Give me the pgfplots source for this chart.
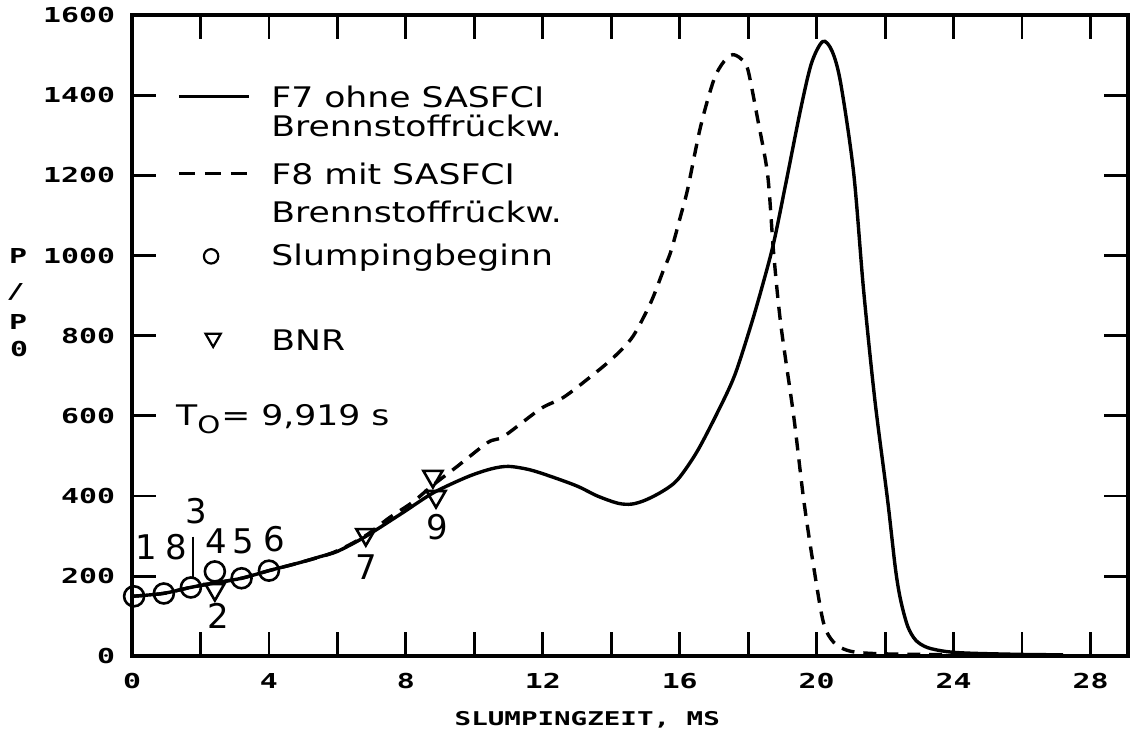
\documentclass[border=0pt]{standalone}
\usepackage{pgfplots}
\pgfplotsset{compat=1.18}
\usepackage{fontspec}
\setmainfont{DejaVu Sans}
\newfontfamily\legfont[FakeStretch=1.22]{DejaVu Sans}
\newfontfamily\plotfont[FakeStretch=1.45]{DejaVu Sans Mono}
\newcommand\tickfont{\plotfont\bfseries\fontsize{10.3}{12}\selectfont}
\newcommand\legtext{\legfont\fontsize{14.2}{16}\selectfont}
\newcommand\numfont{\fontsize{17}{19}\selectfont}

\begin{document}
\begin{tikzpicture}
\begin{axis}[
    scale only axis,
    width=498.5pt, height=321pt,
    xmin=0, xmax=29.1, ymin=0, ymax=1600,
    xtick={0,4,...,28},
    minor xtick={2,6,...,26},
    ytick={0,200,...,1600},
    tick align=inside, tick pos=both,
    major tick length=12pt, minor tick length=12pt,
    every tick/.append style={black, line width=1.4pt},
    every minor tick/.append style={black, line width=1.4pt},
    axis line style={line width=2pt},
    tick label style={font=\tickfont},
    xticklabel style={yshift=-5pt},
    yticklabel style={xshift=-5pt},
    /pgf/number format/assume math mode=true,
    /pgf/number format/1000 sep={},
    xlabel={SLUMPINGZEIT, MS},
    xlabel style={font=\plotfont\bfseries\fontsize{9.5}{11}\selectfont,
        at={(axis cs:13.3,0)}, anchor=center, yshift=-31.5pt},
    clip=false,
]

% F7 ohne SASFCI
\addplot[black, line width=1.7pt, smooth, tension=0.5] coordinates {
    (0,150) (0.9,157) (1.7,172) (2.4,183) (3.2,195) (4.0,214) (4.9,234)
    (5.5,249) (6.0,262) (6.8,298) (7.9,358) (8.8,408) (9.8,448) (10.5,468)
    (11.0,474) (11.6,466) (12.2,450) (13.0,425) (13.6,400) (14.2,382)
    (14.6,380) (15.0,390) (15.5,412) (15.94,441) (16.5,510) (17.1,608)
    (17.6,700) (18.07,823) (18.4,920) (18.74,1030) (19.1,1180) (19.53,1364)
    (19.85,1480) (20.18,1534) (20.45,1510) (20.7,1431) (21.08,1207)
    (21.37,915) (21.7,640) (22.07,392) (22.3,220) (22.45,142) (22.66,75)
    (22.9,40) (23.24,22) (23.8,12) (24.5,8) (26,5) (27.2,4)
};

% F8 mit SASFCI
\addplot[black, line width=1.7pt, smooth, tension=0.5,
    dash pattern=on 6.5pt off 4.5pt] coordinates {
    (0,150) (0.9,157) (1.7,172) (2.4,183) (3.2,195) (4.0,214) (4.9,234)
    (5.9,260) (6.8,300) (7.5,345) (8.2,385) (8.8,428) (9.5,474) (10.4,534)
    (10.86,549) (11.94,618) (12.6,646) (13.4,698) (14.07,746) (14.63,798)
    (15.15,882) (15.5,958) (15.74,1010) (16.03,1100) (16.23,1165)
    (16.61,1322) (17.0,1439) (17.3,1485) (17.55,1501) (17.8,1490)
    (17.99,1464) (18.28,1339) (18.57,1200) (18.74,1010) (18.95,830)
    (19.33,599) (19.62,392) (19.91,225) (20.2,84) (20.5,35) (20.9,15)
    (21.5,8) (23,5) (27,4)
};

% Slumpingbeginn
\addplot[only marks, mark=o, mark size=5pt, line width=1.3pt, black] coordinates {
    (0.06,150) (0.93,157) (1.72,172) (2.42,212) (3.2,195) (4.0,214)
};

% BNR
\addplot[only marks, mark=triangle, mark size=5.5pt, line width=1.3pt, black,
    mark options={rotate=180}] coordinates {
    (2.42,167) (6.83,304) (8.79,449) (8.88,399)
};

% point numbers
\node[font=\numfont] at (axis cs:0.41,272) {1};
\node[font=\numfont] at (axis cs:1.28,272) {8};
\node[font=\numfont] at (axis cs:1.87,362) {3};
\draw[line width=1pt] (axis cs:1.78,299) -- (axis cs:1.78,192);
\node[font=\numfont] at (axis cs:2.45,287) {4};
\node[font=\numfont] at (axis cs:3.24,287) {5};
\node[font=\numfont] at (axis cs:4.15,292) {6};
\node[font=\numfont] at (axis cs:2.51,100) {2};
\node[font=\numfont] at (axis cs:6.83,222) {7};
\node[font=\numfont] at (axis cs:8.93,322) {9};

% legend
\draw[line width=1.3pt] (axis cs:1.37,1397) -- (axis cs:3.42,1397);
\draw[line width=1.3pt, dash pattern=on 8pt off 5pt] (axis cs:1.37,1204) -- (axis cs:3.42,1204);
\draw[line width=1.1pt] (axis cs:2.31,998) circle[radius=3.6pt];
\draw[line width=1.1pt] (axis cs:2.37,790) ++(-3.8pt,3pt) -- ++(7.6pt,0) -- ++(-3.8pt,-6.6pt) -- cycle;
\node[font=\legtext, anchor=base west, inner sep=0pt] at (axis cs:4.06,1370) {F7 ohne SASFCI};
\node[font=\legtext, anchor=base west, inner sep=0pt] at (axis cs:4.06,1298) {Brennstoffrückw.};
\node[font=\legtext, anchor=base west, inner sep=0pt] at (axis cs:4.06,1177) {F8 mit SASFCI};
\node[font=\legtext, anchor=base west, inner sep=0pt] at (axis cs:4.06,1082) {Brennstoffrückw.};
\node[font=\legtext, anchor=base west, inner sep=0pt] at (axis cs:4.06,974) {Slumpingbeginn};
\node[font=\legtext, anchor=base west, inner sep=0pt] at (axis cs:4.06,762) {BNR};
\node[font=\legtext, anchor=base west, inner sep=0pt] at (axis cs:1.28,575) {T$_{\mbox{\legfont\fontsize{12}{12}\selectfont O}}$= 9,919 s};

% y label, stacked
\node[font=\tickfont] at (axis cs:-3.33,998) {P};
\node[font=\tickfont] at (axis cs:-3.40,908) {/};
\node[font=\tickfont] at (axis cs:-3.33,835) {P};
\node[font=\tickfont] at (axis cs:-3.30,766) {0};

\path (axis cs:-3.824,-219.3) rectangle (axis cs:29.30,1637.4);
\end{axis}
\end{tikzpicture}
\end{document}
